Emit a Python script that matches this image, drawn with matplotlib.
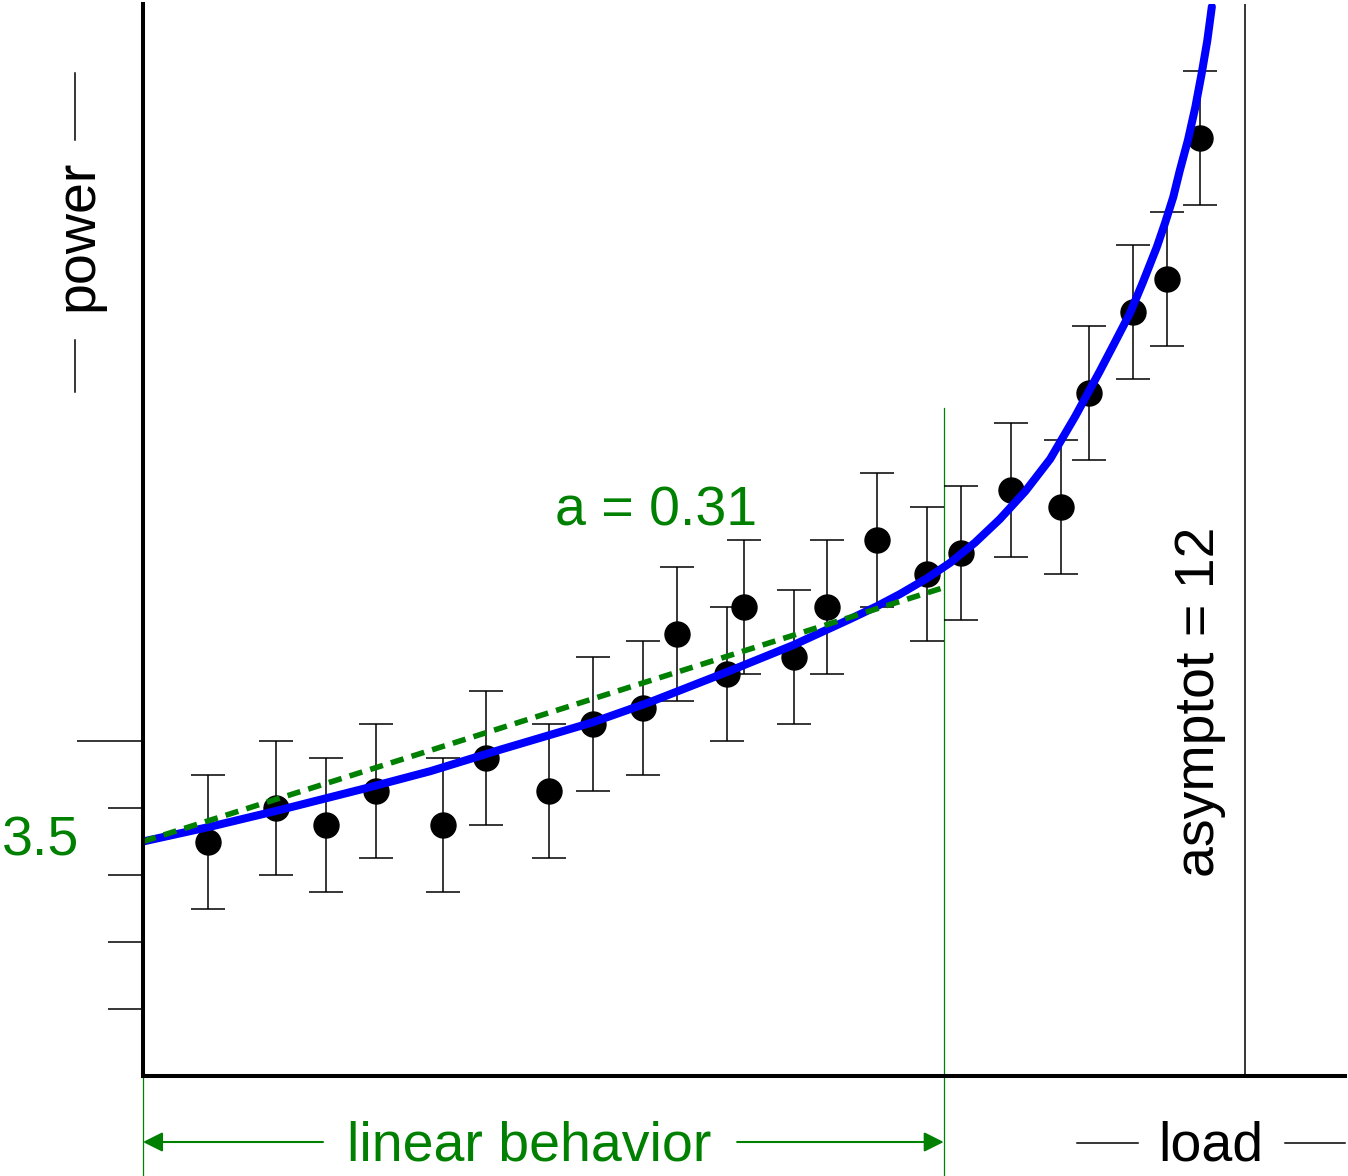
import matplotlib
matplotlib.use("Agg")
import matplotlib.pyplot as plt
from matplotlib.lines import Line2D

plt.rcParams['font.family'] = ['Liberation Sans', 'DejaVu Sans']

# measured points (load, power) with error of +-1
load = [0.71, 1.45, 1.99, 2.54, 3.27, 3.74, 4.42, 4.90, 5.45, 5.82, 6.36, 6.55,
        7.09, 7.45, 7.99, 8.54, 8.91, 9.45, 10.00, 10.30, 10.78, 11.15, 11.51]
power = [3.5, 4.0, 3.75, 4.25, 3.75, 4.75, 4.25, 5.25, 5.5, 6.6, 6.0, 7.0,
         6.25, 7.0, 8.0, 7.5, 7.8, 8.75, 8.5, 10.2, 11.4, 11.9, 14.0]
err = [1.0] * len(load)

# model curve
curve_x = [0.00, 0.73, 1.46, 2.44, 3.13, 3.89, 4.90, 5.52, 6.36, 7.08, 7.70, 7.99,
           8.24, 8.54, 8.79, 9.06, 9.33, 9.61, 9.88, 10.15, 10.42, 10.58, 10.75,
           10.89, 11.04, 11.13, 11.22, 11.29, 11.38, 11.46, 11.53, 11.59, 11.64]
curve_y = [3.50, 3.72, 3.96, 4.30, 4.55, 4.87, 5.28, 5.58, 6.03, 6.43, 6.82, 7.01,
           7.19, 7.43, 7.66, 7.96, 8.31, 8.73, 9.21, 9.84, 10.52, 10.94, 11.39,
           11.85, 12.37, 12.73, 13.12, 13.51, 13.97, 14.46, 14.97, 15.45, 15.96]

# linear fit over the linear region
lin_x = [0.0, 8.72]
lin_y = [3.5, 7.29]
intercept = 3.5
slope_label = "a = 0.31"
asymptote = 12
lin_end = 8.72

green = '#008000'
W, H = 1348, 1176

fig = plt.figure(figsize=(W / 100, H / 100), dpi=100)
ax = fig.add_axes([143 / W, 100 / H, 1202 / W, 1072 / H])
ax.set_xlim(0, 13.09)
ax.set_ylim(0, 16)

# axes look
for s in ['top', 'right']:
    ax.spines[s].set_visible(False)
for s in ['left', 'bottom']:
    ax.spines[s].set_linewidth(2.9)
    ax.spines[s].set_zorder(5)
ax.set_xticks([])
ax.set_yticks([5])
ax.set_yticks([1, 2, 3, 4], minor=True)
ax.set_yticklabels([])
ax.tick_params(axis='y', which='major', length=47.5, width=1.1)
ax.tick_params(axis='y', which='minor', length=25, width=1.1)

# data with error bars
ax.errorbar(load, power, yerr=err, fmt='o', color='black', markersize=18,
            elinewidth=1.1, capsize=12.3, capthick=1.1, zorder=3)

# model curve and linear approximation
ax.plot(curve_x, curve_y, color='#0000ff', linewidth=5.8, solid_capstyle='round',
        solid_joinstyle='round', zorder=4)
ax.plot(lin_x, lin_y, color=green, linewidth=4, linestyle=(0, (2.4, 1.5)), zorder=4.5)

# asymptote and linear-region marker lines
ax.plot([asymptote, asymptote], [0, 16], color='black', linewidth=1.1, zorder=2)
ax.plot([lin_end, lin_end], [9.97, -1.49], color=green, linewidth=0.9, clip_on=False, zorder=2)
ax.plot([0, 0], [0, -1.49], color=green, linewidth=0.9, clip_on=False, zorder=1)

# arrows for linear behavior
arrow_kw = dict(arrowstyle='-|>', color=green, lw=1.5, mutation_scale=30,
                shrinkA=0, shrinkB=0)
ax.annotate('', xy=(0, -0.985), xytext=(1.96, -0.985), arrowprops=arrow_kw,
            annotation_clip=False)
ax.annotate('', xy=(lin_end, -0.985), xytext=(6.47, -0.985), arrowprops=arrow_kw,
            annotation_clip=False)

# texts
fs = 40
ax.text(4.21, -1.254, 'linear behavior', color=green, fontsize=fs,
        ha='center', va='baseline', clip_on=False)
ax.text(11.63, -1.254, 'load', color='black', fontsize=fs,
        ha='center', va='baseline', clip_on=False)
ax.text(-0.708, 12.55, 'power', color='black', fontsize=fs,
        rotation=90, ha='center', va='center', clip_on=False)
ax.text(-0.69, intercept, '3.5', color=green, fontsize=fs,
        ha='right', va='center', clip_on=False)
ax.text(4.49, 8.21, slope_label, color=green, fontsize=fs,
        ha='left', va='baseline')
ax.text(11.51, 5.58, 'asymptot = 12', color='black', fontsize=fs,
        rotation=90, ha='center', va='center')

# thin dashes around the axis titles (pixel positions)
for (x0, y0, x1, y1) in [(1077, 1143, 1138, 1143), (1285, 1143, 1345, 1143),
                         (75, 73, 75, 140), (75, 340, 75, 392)]:
    fig.add_artist(Line2D([x0 / W, x1 / W], [1 - y0 / H, 1 - y1 / H],
                          transform=fig.transFigure, color='black', linewidth=1.1))

fig.savefig('out.png', dpi=100)
